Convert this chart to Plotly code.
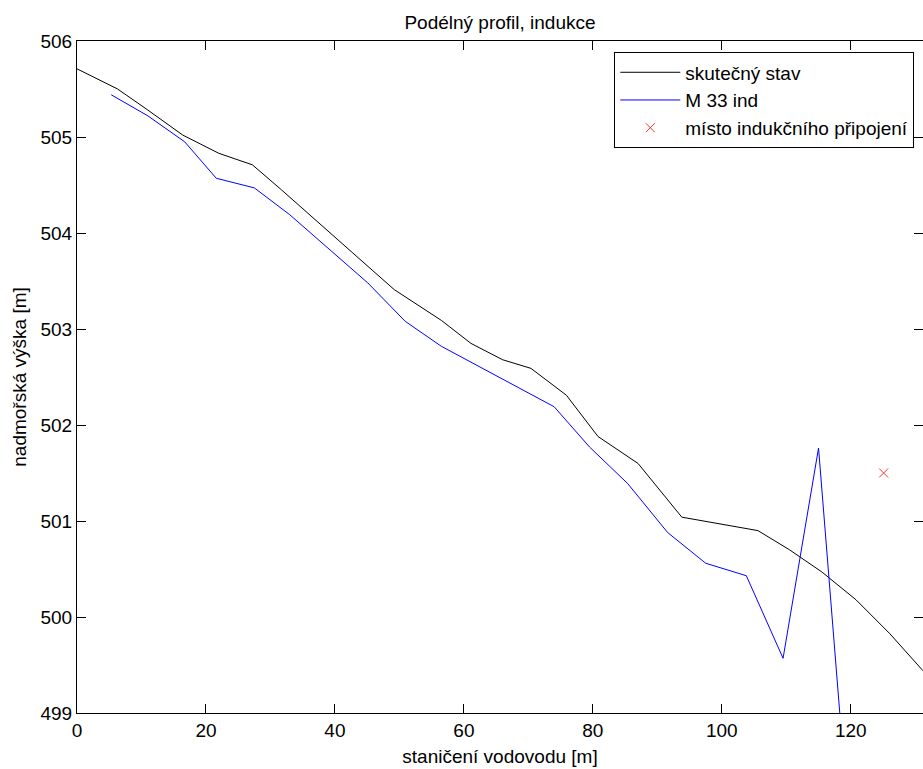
import plotly.graph_objects as go

# skutečný stav
x_stav = [0, 6.3, 11.0, 16.4, 22.0, 27.2, 31.7, 40.0, 49.2, 56.5, 61.1, 66.0, 70.4,
          75.9, 80.8, 87.0, 93.8, 105.6, 110.5, 115.5, 120.8, 126.0, 131.2]
y_stav = [505.71, 505.50, 505.28, 505.02, 504.83, 504.71, 504.45, 503.96, 503.41,
          503.09, 502.85, 502.68, 502.59, 502.31, 501.88, 501.60, 501.04, 500.90,
          500.70, 500.47, 500.18, 499.83, 499.44]

# M 33 ind
x_m33 = [5.3, 11.0, 16.7, 21.6, 27.5, 33.0, 45.1, 50.9, 56.5, 74.0, 79.5, 85.4,
         91.6, 97.5, 103.8, 109.5, 115.0, 120.8]
y_m33 = [505.44, 505.22, 504.95, 504.57, 504.47, 504.19, 503.48, 503.08, 502.82,
         502.19, 501.77, 501.39, 500.88, 500.56, 500.43, 499.57, 501.76, 496.9]

# místo indukčního připojení
x_pripojeni = [125.1]
y_pripojeni = [501.5]

x_ticks = [0, 20, 40, 60, 80, 100, 120]
y_ticks = [499, 500, 501, 502, 503, 504, 505, 506]

FONT = "Arial, Liberation Sans, sans-serif"

fig = go.Figure()
fig.add_trace(go.Scatter(x=x_stav, y=y_stav, mode="lines", name="skutečný stav",
                         line=dict(color="black", width=1)))
fig.add_trace(go.Scatter(x=x_m33, y=y_m33, mode="lines", name="M 33 ind",
                         line=dict(color="#0000ff", width=1)))
fig.add_trace(go.Scatter(x=x_pripojeni, y=y_pripojeni, mode="markers",
                         name="místo indukčního připojení",
                         marker=dict(symbol="x-thin", size=9, color="red",
                                     line=dict(color="#ff3333", width=1))))

fig.update_layout(
    width=923, height=769,
    margin=dict(l=77, r=0, t=41, b=56, autoexpand=False),
    paper_bgcolor="white", plot_bgcolor="white",
    font=dict(family=FONT, size=19, color="black"),
    title=dict(text="Podélný profil, indukce", x=0.5, xref="paper",
               y=1 - 22 / 769, yref="container", yanchor="middle",
               font=dict(size=19)),
    showlegend=True,
    legend=dict(x=0.9897, xanchor="right", y=0.983, yanchor="top",
                bgcolor="white", bordercolor="black", borderwidth=1,
                font=dict(size=19), itemwidth=60, tracegroupgap=0),
)
fig.update_xaxes(range=[0, 131.2], tickvals=x_ticks, ticks="inside", ticklen=9,
                 tickcolor="black", showline=True, linecolor="black", linewidth=1,
                 mirror="ticks", showgrid=False, zeroline=False, automargin=False,
                 tickfont=dict(size=19),
                 title=dict(text="staničení vodovodu [m]", standoff=9,
                            font=dict(size=19)))
fig.update_yaxes(range=[499, 506], tickvals=y_ticks, ticks="inside", ticklen=9,
                 tickcolor="black", showline=True, linecolor="black", linewidth=1,
                 mirror="ticks", showgrid=False, zeroline=False, automargin=False,
                 tickfont=dict(size=19),
                 title=dict(text="nadmořská výška [m]", standoff=8,
                            font=dict(size=19)))

fig.write_html("out.html", config={"displayModeBar": False},
               post_script="document.body.style.margin='0px';")
